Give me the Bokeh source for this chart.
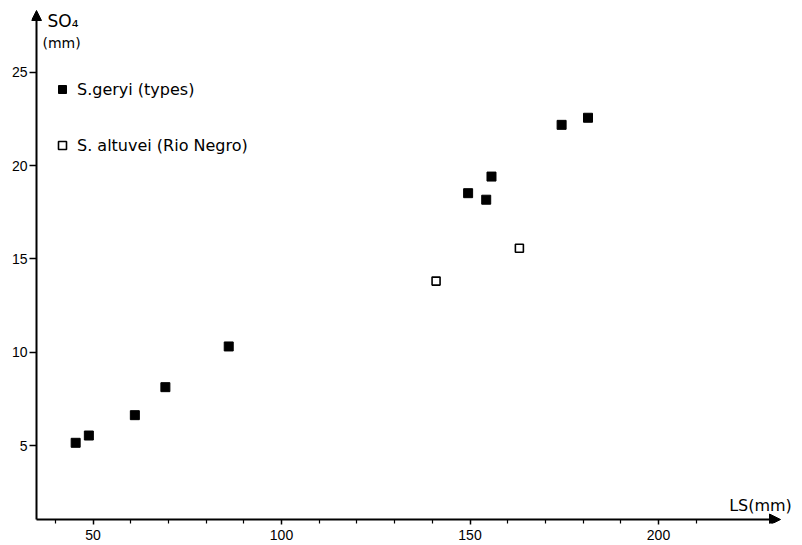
from bokeh.plotting import figure
from bokeh.models import (Range1d, FixedTicker, Arrow, NormalHead, Label, Legend, LegendItem)
from bokeh.embed import file_html
from bokeh.resources import INLINE

# Data (LS in mm, SO4 in mm)
geryi_ls = [45.4, 48.9, 61.1, 69.2, 86.0, 149.5, 154.3, 155.7, 174.3, 181.3]
geryi_so4 = [5.15, 5.54, 6.63, 8.13, 10.31, 18.52, 18.17, 19.41, 22.18, 22.56]
altuvei_ls = [141.0, 163.1]
altuvei_so4 = [13.81, 15.57]

x_ticks = [50, 100, 150, 200]
x_minor = [40, 60, 70, 80, 90, 110, 120, 130, 140, 160, 170, 180, 190, 210]
y_ticks = [5, 10, 15, 20, 25]

# pixel scale of the original drawing
PX_X = 3.77   # px per mm of LS
PX_Y = 18.67  # px per mm of SO4

X0, X1 = 50 + (31 - 92.5) / PX_X, 50 + (802 - 92.5) / PX_X
Y0, Y1 = 25 - (523 - 71.7) / PX_Y, 25 + 71.7 / PX_Y
XO, YO = 50 + (36 - 92.5) / PX_X, 25 - (519 - 71.7) / PX_Y   # origin of the drawn axes
XA = 50 + (780 - 92.5) / PX_X
YA = 25 + (71.7 - 10) / PX_Y

p = figure(width=802, height=545, output_backend="svg", toolbar_location=None,
           x_range=Range1d(X0, X1), y_range=Range1d(Y0, Y1),
           min_border_left=31, min_border_right=0, min_border_top=0, min_border_bottom=22)
p.outline_line_color = None
p.grid.visible = False
p.background_fill_color = "white"
p.border_fill_color = "white"

p.xaxis.ticker = FixedTicker(ticks=x_ticks, minor_ticks=x_minor)
p.yaxis.ticker = FixedTicker(ticks=y_ticks, minor_ticks=[])
for ax in (p.xaxis, p.yaxis):
    ax.axis_line_color = None
    ax.major_tick_line_color = "black"
    ax.major_tick_line_width = 1.5
    ax.major_label_text_font = "Liberation Sans"
    ax.major_label_text_font_size = "14px"
    ax.major_label_text_color = "black"
p.xaxis.major_tick_in = 4
p.xaxis.major_tick_out = 1
p.xaxis.minor_tick_in = 4
p.xaxis.minor_tick_out = 0
p.xaxis.minor_tick_line_color = "black"
p.xaxis.minor_tick_line_width = 1.2
p.xaxis.major_label_standoff = 5
p.yaxis.major_tick_in = 5
p.yaxis.major_tick_out = 2
p.yaxis.minor_tick_line_color = None
p.yaxis.major_label_standoff = 2

# axis lines with arrow heads
p.add_layout(Arrow(end=NormalHead(size=11, fill_color="black", line_color="black"),
                   x_start=XO, y_start=YO, x_end=XA, y_end=YO,
                   line_color="black", line_width=2))
p.add_layout(Arrow(end=NormalHead(size=10, fill_color="black", line_color="black"),
                   x_start=XO, y_start=YO, x_end=XO, y_end=YA,
                   line_color="black", line_width=2))

r1 = p.scatter(geryi_ls, geryi_so4, marker="square", size=9,
               fill_color="black", line_color="black")
r2 = p.scatter(altuvei_ls, altuvei_so4, marker="square", size=8,
               fill_color="white", line_color="black", line_width=1.6)

legend = Legend(items=[LegendItem(label="S.geryi (types)", renderers=[r1]),
                       LegendItem(label="S. altuvei (Rio Negro)", renderers=[r2])],
                location=(21, 368), padding=0, margin=0, spacing=36,
                label_standoff=5, border_line_color=None,
                background_fill_alpha=0,
                label_text_font="DejaVu Sans", label_text_font_size="16px",
                label_text_color="black")
p.add_layout(legend)

# axis titles
p.add_layout(Label(x=50 + (47 - 92.5) / PX_X, y=25 + (71.7 - 20) / PX_Y, text="SO₄",
                   text_font="DejaVu Sans", text_font_size="17px",
                   text_baseline="middle", text_color="black"))
p.add_layout(Label(x=50 + (42 - 92.5) / PX_X, y=25 + (71.7 - 42) / PX_Y, text="(mm)",
                   text_font="DejaVu Sans", text_font_size="14px",
                   text_baseline="middle", text_color="black"))
p.add_layout(Label(x=50 + (760 - 92.5) / PX_X, y=25 - (505 - 71.7) / PX_Y, text="LS(mm)",
                   text_font="DejaVu Sans", text_font_size="16px", text_align="center",
                   text_baseline="middle", text_color="black"))

open("out.html", "w").write(file_html(p, INLINE))
